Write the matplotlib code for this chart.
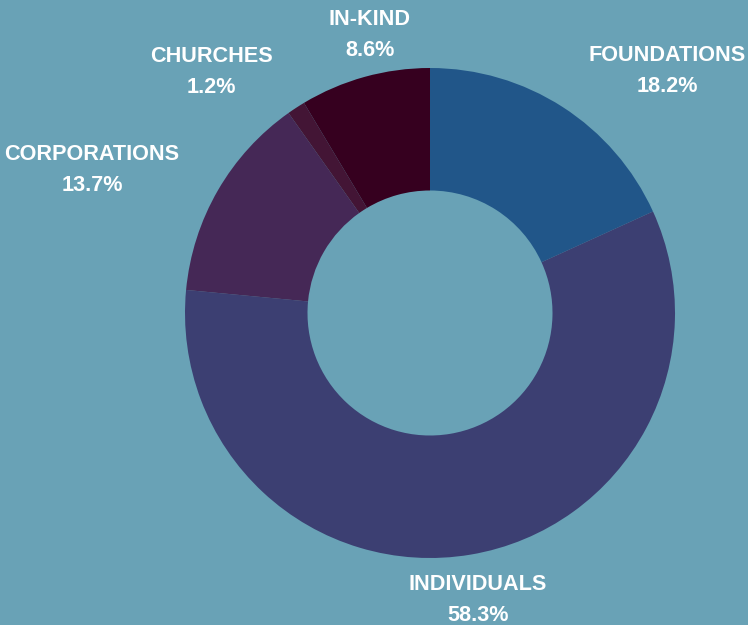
import matplotlib
matplotlib.use("Agg")
import matplotlib.pyplot as plt

categories = ["FOUNDATIONS", "INDIVIDUALS", "CORPORATIONS", "CHURCHES", "IN-KIND"]
values = [18.2, 58.3, 13.7, 1.2, 8.6]
colors = ["#215689", "#3c3f72", "#452856", "#431535", "#36001f"]
bg = "#69a2b6"

W, H = 748, 625
cx, cy, R = 430, 313, 245

fig = plt.figure(figsize=(W / 100, H / 100), dpi=100, facecolor=bg)
ax = fig.add_axes([0, 0, 1, 1])
ax.set_facecolor(bg)

ax.pie(values, colors=colors, startangle=90, counterclock=False,
       radius=1.0, center=(0, 0),
       wedgeprops=dict(width=0.5, edgecolor="none", linewidth=0))

ax.set_xlim(-cx / R, (W - cx) / R)
ax.set_ylim(-(H - cy) / R, cy / R)
ax.set_aspect("auto")
ax.axis("off")

# label positions (pixel coordinates of label centres)
label_px = {
    "FOUNDATIONS": (667, 71),
    "INDIVIDUALS": (478, 600),
    "CORPORATIONS": (92, 170),
    "CHURCHES": (211, 72),
    "IN-KIND": (370, 35),
}
for cat, val in zip(categories, values):
    px, py = label_px[cat]
    x = (px - cx) / R
    y = (cy - py) / R
    ax.text(x, y, f"{cat}\n{val:.1f}%", ha="center", va="center",
            color="white", fontsize=15.6, fontweight="bold",
            family="Liberation Sans", linespacing=1.63)

fig.savefig("out.png", dpi=100, facecolor=bg)
